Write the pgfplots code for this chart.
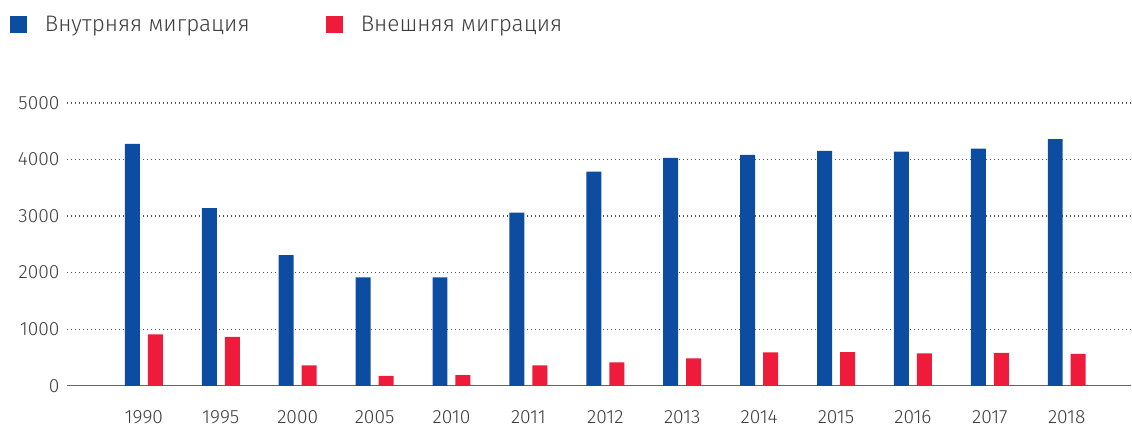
\documentclass[border=0pt]{standalone}
\usepackage{fontspec}
\setmainfont{Fira Sans}[UprightFont={* Light}]
\usepackage{pgfplots}
\pgfplotsset{compat=1.18}
\definecolor{inner}{HTML}{0D4DA1}
\definecolor{outer}{HTML}{EE1B3A}
\definecolor{txt}{HTML}{3C3C3C}
\definecolor{gridc}{HTML}{555555}

\begin{document}
\begin{tikzpicture}
% 1 px of the reference = 0.6pt
\begin{axis}[
  name=main,
  scale only axis,
  width=639pt, height=169.8pt,
  ybar=4.8pt, bar width=9pt,
  xmin=-1, xmax=12.84,
  ymin=0, ymax=5000,
  xtick=data,
  xticklabels={1990,1995,2000,2005,2010,2011,2012,2013,2014,2015,2016,2017,2018},
  ytick={0,1000,2000,3000,4000,5000},
  major tick length=0pt,
  axis x line*=bottom,
  axis y line*=left,
  y axis line style={draw=none},
  x axis line style={draw=gridc!90, line width=0.8pt},
  ymajorgrids,
  grid style={gridc, dotted, line width=0.7pt},
  /pgf/number format/1000 sep={},
  /pgf/number format/assume math mode=true,
  tick label style={font=\fontsize{11.5}{13}\selectfont, text=txt},
  yticklabel style={xshift=-1pt},
  xticklabel style={yshift=-11.5pt},
  clip=false,
  legend columns=2,
  legend style={at={(-0.0535,1.2756)}, anchor=west, draw=none, fill=none,
    inner sep=0pt, font=\fontsize{13.5}{15}\selectfont, text=txt,
    /tikz/every odd column/.append style={column sep=8.5pt},
    /tikz/every even column/.append style={column sep=44pt}},
]
\coordinate (O) at (rel axis cs:0,0);
\addplot[fill=inner, draw=none,
  legend image code/.code={\fill[inner] (0pt,-5.1pt) rectangle (10.2pt,5.1pt);}]
  coordinates {(0,4275) (1,3140) (2,2309) (3,1914) (4,1914) (5,3062) (6,3787)
    (7,4028) (8,4081) (9,4152) (10,4140) (11,4193) (12,4358)};
\addlegendentry{Внутрняя миграция}
\addplot[fill=outer, draw=none,
  legend image code/.code={\fill[outer] (0pt,-5.1pt) rectangle (10.2pt,5.1pt);}]
  coordinates {(0,907) (1,866) (2,360) (3,177) (4,188) (5,359) (6,412)
    (7,483) (8,589) (9,595) (10,571) (11,583) (12,565)};
\addlegendentry{Внешняя миграция}
\end{axis}
\path (O) ++(-40.2pt,-23.4pt) rectangle ++(679.2pt,255pt);
\end{tikzpicture}
\end{document}
